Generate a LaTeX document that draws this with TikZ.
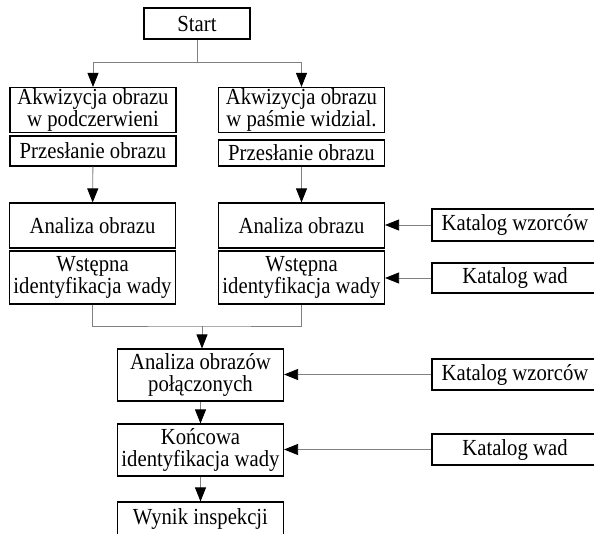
\documentclass[tikz,border=0pt]{standalone}
\usepackage{fontspec}
\setmainfont{Liberation Serif}[FakeStretch=0.9]
\usetikzlibrary{arrows.meta}

\begin{document}
\begin{tikzpicture}[x=1pt,y=-1pt,
    box/.style={draw,line width=1.1pt,inner sep=0pt,align=center,minimum width=166pt,
                font=\fontsize{23}{22}\selectfont},
    conn/.style={draw=gray,line width=0.8pt},
    arr/.style={conn,-{Triangle[length=14pt,width=11pt,color=black]}}]

  \path[use as bounding box,clip] (0,0) rectangle (594,533);

  \node[box,minimum width=106pt,minimum height=31pt] (start) at (197,23.5) {Start};

  % dwie galezie
  \node[box,minimum height=45pt] (akIR) at (93,110) {Akwizycja obrazu\\w podczerwieni};
  \node[box,minimum height=30pt] (przIR) at (93,151) {Przesłanie obrazu};
  \node[box,minimum height=45pt] (akVIS) at (301.5,110) {Akwizycja obrazu\\w paśmie widzial.};
  \node[box,minimum height=26pt] (przVIS) at (301.5,153) {Przesłanie obrazu};

  \node[box,minimum height=45pt] (anIR) at (92.5,225.5) {Analiza obrazu};
  \node[box,minimum height=53pt] (wstIR) at (92.5,277.5) {Wstępna\\identyfikacja wady};
  \node[box,minimum height=45pt] (anVIS) at (301.5,225.5) {Analiza obrazu};
  \node[box,minimum height=53pt] (wstVIS) at (301.5,277.5) {Wstępna\\identyfikacja wady};

  \node[box,minimum height=32pt] (katWz1) at (515,225) {Katalog wzorców};
  \node[box,minimum height=30pt] (katWad1) at (515,278) {Katalog wad};

  % czesc wspolna
  \node[box,minimum height=52pt] (anPol) at (200.5,375) {Analiza obrazów\\połączonych};
  \node[box,minimum height=52pt] (konc) at (200.5,450) {Końcowa\\identyfikacja wady};
  \node[box,minimum height=34pt] (wynik) at (200.5,519) {Wynik inspekcji};

  \node[box,minimum height=31pt] (katWz2) at (515,374.5) {Katalog wzorców};
  \node[box,minimum height=31pt] (katWad2) at (515,449.5) {Katalog wad};

  \coordinate (fork) at (197,62);
  \coordinate (join) at (202,326);

  \draw[conn] (start) -- (fork);
  \draw[arr] (fork) -| (akIR);
  \draw[arr] (fork) -| (akVIS);
  \draw[arr] (przIR) -- (anIR);
  \draw[arr] (przVIS) -- (anVIS);

  \draw[arr] (katWz1.west) -- (katWz1.west -| anVIS.east);
  \draw[arr] (katWad1.west) -- (katWad1.west -| wstVIS.east);

  \draw[conn] (wstIR) |- (join) -| (wstVIS);
  \draw[arr] (join) -- (join |- anPol.north);
  \draw[arr] (anPol) -- (konc);
  \draw[arr] (konc) -- (wynik);

  \draw[arr] (katWz2.west) -- (katWz2.west -| anPol.east);
  \draw[arr] (katWad2.west) -- (katWad2.west -| konc.east);

\end{tikzpicture}
\end{document}
